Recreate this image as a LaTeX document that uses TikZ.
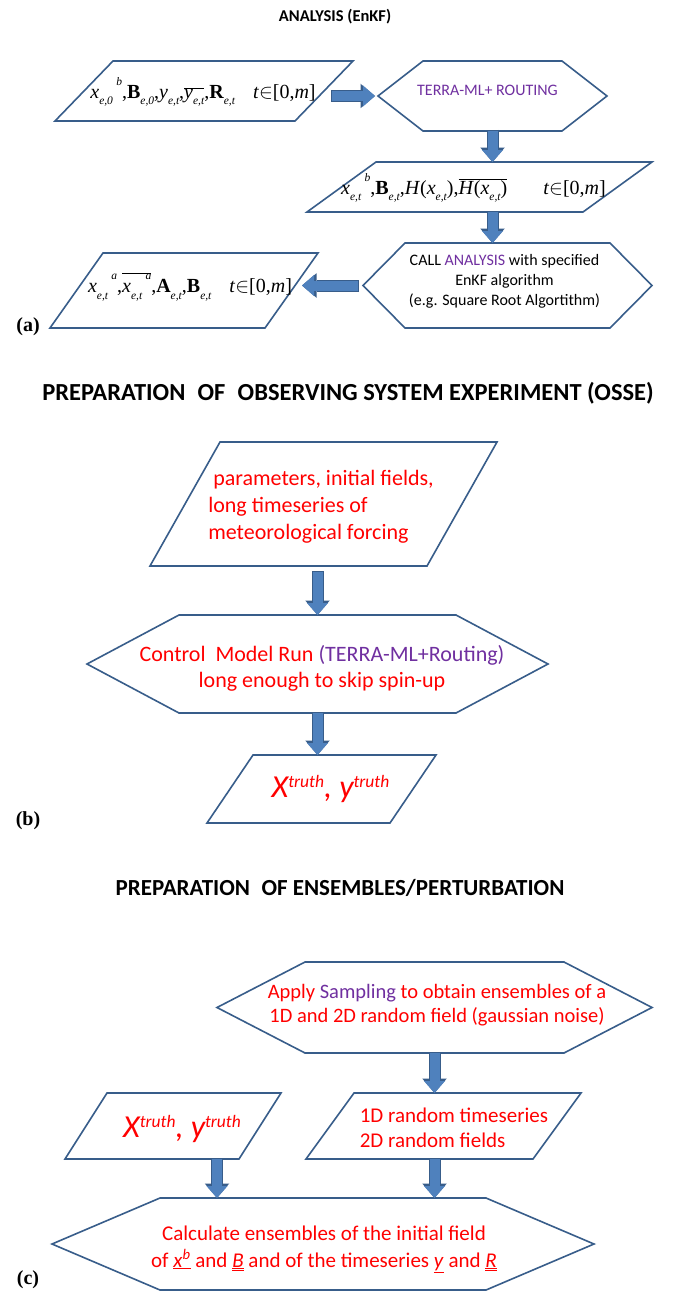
\documentclass[tikz,border=0pt]{standalone}
\usepackage{fontspec}
\setmainfont{Carlito}
\newfontfamily\tnr{Liberation Serif}
\usetikzlibrary{arrows.meta,calc}
\definecolor{outl}{HTML}{385D8A}
\definecolor{afill}{HTML}{4F81BD}
\definecolor{purp}{HTML}{7030A0}
\definecolor{tred}{HTML}{FF0000}
\newcommand\sbx[1]{\raisebox{-0.33em}{\fontsize{11.5}{11.5}\selectfont\itshape #1}}
\newcommand\spx[1]{\raisebox{0.65em}{\fontsize{11.5}{11.5}\selectfont\itshape #1}}
\newcommand\I[1]{\textit{#1}}
\newcommand\Bf[1]{\textbf{\upshape #1}}
\newcommand\fml{\tnr\fontsize{20}{22}\selectfont}
\newcommand\para[2]{\draw[shpline] ([xshift=#2pt]#1.north west) -- (#1.north east) -- ([xshift=-#2pt]#1.south east) -- (#1.south west) -- cycle;}
\newcommand\hexa[2]{\draw[shpline] ([xshift=#2pt]#1.north west) -- ([xshift=-#2pt]#1.north east) -- (#1.east) -- ([xshift=-#2pt]#1.south east) -- ([xshift=#2pt]#1.south west) -- (#1.west) -- cycle;}
\newcommand\truthtext{\itshape\fontsize{32}{32}\selectfont X\raisebox{10pt}{\fontsize{17.5}{17.5}\selectfont truth}, y\raisebox{10pt}{\fontsize{17.5}{17.5}\selectfont truth}}
\tikzset{
  shp/.style={inner sep=0pt, outer sep=0pt},
  txt/.style={inner sep=0pt, outer sep=0pt, align=center},
  shpline/.style={draw=outl, line width=1.6pt, line join=miter},
  ttl/.style={inner sep=0pt, font=\bfseries},
  lbl/.style={inner sep=0pt, font=\tnr\bfseries\fontsize{20}{20}\selectfont},
  barrow/.style={draw=afill, line width=10pt, -{Triangle[length=12pt,width=21pt,line width=0pt]},
    preaction={draw=outl, line width=12pt, shorten <=-1pt, -{Triangle[length=14.5pt,width=24.5pt,line width=0pt]}}}
}
\begin{document}
\begin{tikzpicture}[x=1pt,y=-1pt]
\useasboundingbox[fill=white] (0,0) rectangle (679,1295);

% ---------------- (a) ANALYSIS ----------------
\node[ttl, font=\bfseries\fontsize{16.5}{16.5}\selectfont] (ta) at (335,17) {ANALYSIS (EnKF)};

\node[shp, minimum width=298pt, minimum height=60pt] (p1) at (204,91) {};
\para{p1}{58}
\node[txt] (p1t) at ($(p1)+(-1,1)$)
  {\fml \I{x}\sbx{e,0}\,\spx{b},\Bf{B}\sbx{e,0},\I{y}\sbx{e,t},$\overline{\hbox{\I{y}\sbx{e,t}}}$,\Bf{R}\sbx{e,t}\hspace{0.9em}\I{t}$\in$[0,\I{m}]};

\node[shp, minimum width=229pt, minimum height=70pt] (h1) at (492.5,96) {};
\hexa{h1}{45}
\node[txt, font=\fontsize{16}{19}\selectfont, text=purp] (h1t) at ($(h1)+(-5,-6)$) {TERRA-ML+ ROUTING};

\node[shp, minimum width=345pt, minimum height=50pt] (p2) at (479.5,187) {};
\para{p2}{69}
\node[txt] (p2t) at ($(p2)+(-6,1)$)
  {\fml \I{x}\sbx{e,t}\,\spx{b},\Bf{B}\sbx{e,t},\I{H}(\I{x}\sbx{e,t}),$\overline{\hbox{\I{H}(\I{x}\sbx{e,t})}}$\hspace{1.8em}\I{t}$\in$[0,\I{m}]};

\node[shp, minimum width=289pt, minimum height=85pt] (h2) at (507.5,285.5) {};
\hexa{h2}{42}
\node[txt, font=\fontsize{16}{20}\selectfont] (h2t) at ($(h2)+(-3,-4)$)
  {CALL \textcolor{purp}{ANALYSIS} with specified\\EnKF algorithm\\(e.g. Square Root Algortithm)};

\node[shp, minimum width=268pt, minimum height=75pt] (p3) at (184,290.5) {};
\para{p3}{53}
\node[txt] (p3t) at ($(p3)+(6,-4)$)
  {\fml \I{x}\sbx{e,t}\,\spx{a},$\overline{\hbox{\I{x}\sbx{e,t}\,\spx{a}}}$,\Bf{A}\sbx{e,t},\Bf{B}\sbx{e,t}\hspace{0.9em}\I{t}$\in$[0,\I{m}]};

\node[lbl] (la) at (28,327) {(a)};

\draw[barrow] ($(p1.east |- h1.west)+(-21,0)$) -- ($(h1.west)+(-3,0)$);
\draw[barrow] (h1.south) -- (h1.south |- p2.north);
\draw[barrow] (p2.south -| h1.south) -- (h2.north -| h1.south);
\draw[barrow] ($(h2.west)+(-5,0)$) -- ($(p3.east |- h2.west)+(-16,0)$);

% ---------------- (b) OSSE ----------------
\node[ttl, font=\bfseries\fontsize{24.5}{24.5}\selectfont] (tb) at (348,393) {PREPARATION\hspace{0.5em}OF\hspace{0.5em}OBSERVING SYSTEM EXPERIMENT (OSSE)};

\node[shp, minimum width=347pt, minimum height=124pt] (p4) at (323.5,504) {};
\para{p4}{70}
\node[txt, font=\fontsize{22}{27}\selectfont, text=tred] (p4t) at ($(p4)+(-2.5,3)$)
  {\begin{tabular}{@{}l@{}}\ parameters, initial fields,\\long timeseries of\\meteorological forcing\end{tabular}};

\node[shp, minimum width=461pt, minimum height=98pt] (h3) at (317.5,664) {};
\hexa{h3}{92}
\node[txt, font=\fontsize{22}{26}\selectfont, text=tred] (h3t) at ($(h3)+(4.5,4)$)
  {Control\ \ Model Run \textcolor{purp}{(TERRA-ML+Routing)}\\long enough to skip spin-up};

\node[shp, minimum width=229pt, minimum height=68pt] (p5) at (321.5,789) {};
\para{p5}{46}
\node[txt, text=tred] (p5t) at ($(p5)+(9,0)$) {\truthtext};

\node[lbl] (lb) at (28,821) {(b)};

\draw[barrow] ($(h3.north |- p4.south)+(0,6)$) -- (h3.north);
\draw[barrow] (h3.south) -- (h3.south |- p5.north);

% ---------------- (c) ENSEMBLES ----------------
\node[ttl, font=\bfseries\fontsize{23}{23}\selectfont] (tc) at (340,888) {PREPARATION\hspace{0.5em}OF ENSEMBLES/PERTURBATION};

\node[shp, minimum width=435pt, minimum height=91pt] (h4) at (434.5,1007.5) {};
\hexa{h4}{88}
\node[txt, font=\fontsize{20.5}{24}\selectfont, text=tred] (h4t) at ($(h4)+(2.5,-2.5)$)
  {Apply \textcolor{purp}{Sampling} to obtain ensembles of a\\1D and 2D random field (gaussian noise)};

\node[shp, minimum width=275pt, minimum height=66pt] (p6) at (443.5,1126) {};
\para{p6}{48}
\node[txt, font=\fontsize{21}{25}\selectfont, text=tred] (p6t) at ($(p6)+(10.5,3.5)$)
  {\begin{tabular}{@{}l@{}}1D random timeseries\\2D random fields\end{tabular}};

\node[shp, minimum width=216pt, minimum height=66pt] (p7) at (173,1126) {};
\para{p7}{42}
\node[txt, text=tred] (p7t) at ($(p7)+(9,3)$) {\truthtext};

\node[shp, minimum width=542pt, minimum height=92pt] (h5) at (323,1244) {};
\hexa{h5}{108}
\node[txt, font=\fontsize{21}{27}\selectfont, text=tred] (h5t) at ($(h5)+(1,5)$)
  {Calculate ensembles of the initial field\\of \underline{\I{x}\textsuperscript{\I{b}}} and $\underline{\underline{\hbox{\I{B}}}}$ and of the timeseries \underline{\I{y}} and $\underline{\underline{\hbox{\I{R}}}}$};

\node[lbl] (lc) at (28,1280) {(c)};

\coordinate (a8) at ($(p7.south)+(44,0)$);
\draw[barrow] (h4.south) -- (h4.south |- p6.north);
\draw[barrow] (a8) -- (a8 |- h5.north);
\draw[barrow] (p6.south -| h4.south) -- (h5.north -| h4.south);
\end{tikzpicture}
\end{document}
